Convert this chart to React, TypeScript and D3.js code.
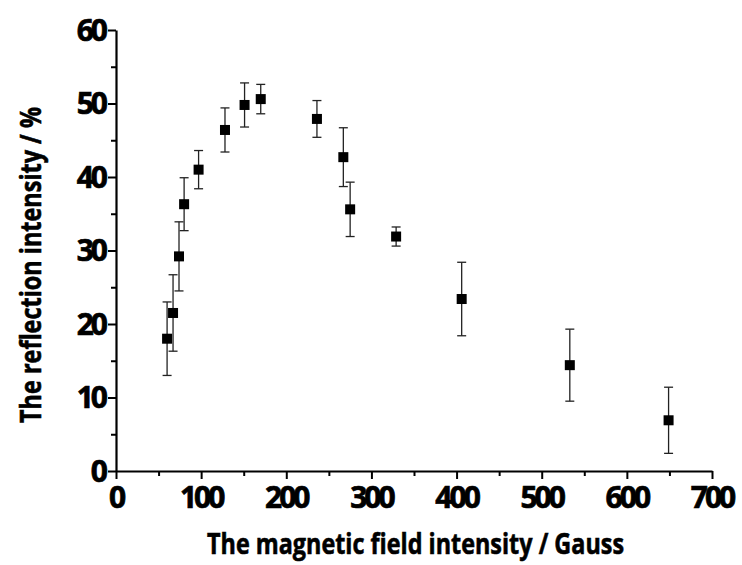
import { useEffect, useRef } from 'react';
import * as d3 from 'd3';

// magnetic field (Gauss), reflection intensity (%), error (+/-)
const fieldValues = [60, 67, 74, 80, 97, 128, 151, 170, 236, 267, 275, 329, 406, 533, 649];
const reflectionValues = [18.0, 21.5, 29.2, 36.3, 41.0, 46.4, 49.8, 50.6, 47.9, 42.7, 35.6, 31.9, 23.4, 14.4, 6.9];
const errorValues = [5.0, 5.2, 4.7, 3.6, 2.6, 3.0, 3.0, 2.0, 2.5, 4.0, 3.7, 1.3, 5.0, 4.9, 4.5];

const xTicks = [0, 100, 200, 300, 400, 500, 600, 700];
const yTicks = [0, 10, 20, 30, 40, 50, 60];

const xTitle = 'The magnetic field intensity / Gauss';
const yTitle = 'The reflection intensity / %';

function App() {
  const svgRef = useRef(null);

  useEffect(() => {
    const width = 742;
    const height = 565;
    const svg = d3.select(svgRef.current);
    svg.selectAll('*').remove();
    svg.attr('width', width).attr('height', height);

    svg.append('rect').attr('width', width).attr('height', height).attr('fill', '#fff');

    const xScale = d3.scaleLinear().domain([0, 700]).range([116, 712]);
    const yScale = d3.scaleLinear().domain([0, 60]).range([471, 30]);

    const font = "'Open Sans', 'DejaVu Sans', sans-serif";

    // x axis
    const xAxis = d3.axisBottom(xScale)
      .tickValues(d3.range(0, 701, 50))
      .tickSize(6)
      .tickSizeOuter(0)
      .tickFormat(() => '');
    const gx = svg.append('g').attr('transform', `translate(0,${yScale(0)})`).call(xAxis);
    gx.select('.domain').attr('stroke', '#000').attr('stroke-width', 2.2);
    gx.selectAll('.tick line')
      .attr('stroke', '#000')
      .attr('stroke-width', 2)
      .attr('y2', (d) => (d % 100 === 0 ? 8 : 5));

    // y axis
    const yAxis = d3.axisLeft(yScale)
      .tickValues(d3.range(0, 61, 5))
      .tickSize(6)
      .tickSizeOuter(0)
      .tickFormat(() => '');
    const gy = svg.append('g').attr('transform', `translate(${xScale(0)},0)`).call(yAxis);
    gy.select('.domain').attr('stroke', '#000').attr('stroke-width', 2.2);
    gy.selectAll('.tick line')
      .attr('stroke', '#000')
      .attr('stroke-width', 2)
      .attr('x2', (d) => (d % 10 === 0 ? -8 : -5));

    // tick labels
    svg.append('g')
      .selectAll('text')
      .data(xTicks)
      .enter()
      .append('text')
      .attr('x', (d) => xScale(d))
      .attr('y', 508)
      .attr('text-anchor', 'middle')
      .attr('font-family', font)
      .attr('font-weight', 700)
      .attr('font-size', 30)
      .attr('letter-spacing', -3)
      .attr('fill', '#000')
      .attr('stroke', '#000')
      .attr('stroke-width', 0.7)
      .text((d) => d);

    svg.append('g')
      .selectAll('text')
      .data(yTicks)
      .enter()
      .append('text')
      .attr('x', 105)
      .attr('y', (d) => yScale(d) + 10.5)
      .attr('text-anchor', 'end')
      .attr('font-family', font)
      .attr('font-weight', 700)
      .attr('font-size', 30)
      .attr('letter-spacing', -3)
      .attr('fill', '#000')
      .attr('stroke', '#000')
      .attr('stroke-width', 0.7)
      .text((d) => d);

    // axis titles
    svg.append('text')
      .attr('x', 207)
      .attr('y', 554)
      .attr('textLength', 417)
      .attr('lengthAdjust', 'spacingAndGlyphs')
      .attr('font-family', font)
      .attr('font-weight', 700)
      .attr('font-size', 29)
      .attr('fill', '#000')
      .attr('stroke', '#000')
      .attr('stroke-width', 0.6)
      .text(xTitle);

    svg.append('text')
      .attr('transform', 'translate(41,423) rotate(-90)')
      .attr('x', 0)
      .attr('y', 0)
      .attr('textLength', 316)
      .attr('lengthAdjust', 'spacingAndGlyphs')
      .attr('font-family', font)
      .attr('font-weight', 700)
      .attr('font-size', 29)
      .attr('fill', '#000')
      .attr('stroke', '#000')
      .attr('stroke-width', 0.6)
      .text(yTitle);

    const points = fieldValues.map((x, i) => ({ x, y: reflectionValues[i], e: errorValues[i] }));

    // error bars
    const bars = svg.append('g').selectAll('g').data(points).enter().append('g');
    bars.append('line')
      .attr('x1', (d) => xScale(d.x))
      .attr('x2', (d) => xScale(d.x))
      .attr('y1', (d) => yScale(d.y + d.e))
      .attr('y2', (d) => yScale(d.y - d.e))
      .attr('stroke', '#222')
      .attr('stroke-width', 1.3);
    [1, -1].forEach((s) => {
      bars.append('line')
        .attr('x1', (d) => xScale(d.x) - 4.5)
        .attr('x2', (d) => xScale(d.x) + 4.5)
        .attr('y1', (d) => yScale(d.y + s * d.e))
        .attr('y2', (d) => yScale(d.y + s * d.e))
        .attr('stroke', '#222')
        .attr('stroke-width', 1.3);
    });

    // markers
    svg.append('g')
      .selectAll('rect')
      .data(points)
      .enter()
      .append('rect')
      .attr('x', (d) => xScale(d.x) - 5)
      .attr('y', (d) => yScale(d.y) - 5)
      .attr('width', 10)
      .attr('height', 10)
      .attr('fill', '#000');
  }, []);

  return (
    <div style={{ position: 'absolute', left: 0, top: 0 }}>
      <svg ref={svgRef} style={{ display: 'block' }}></svg>
    </div>
  );
}

export default App;
